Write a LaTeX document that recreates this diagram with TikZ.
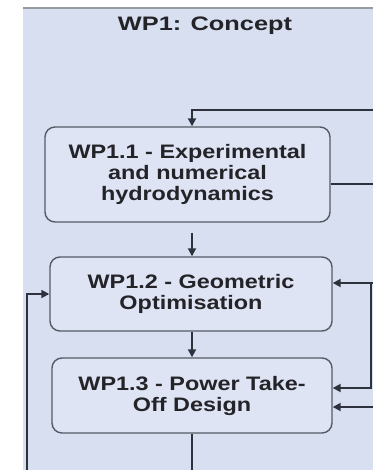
\documentclass[tikz,border=0pt]{standalone}
\usepackage{fontspec}
\setmainfont{Liberation Sans}
\newfontfamily\boxfont[FakeStretch=1.2]{Liberation Sans}
\newfontfamily\titlefont[FakeStretch=1.3]{Liberation Sans}
\usetikzlibrary{arrows.meta}
\definecolor{panel}{RGB}{216,223,241}
\definecolor{boxfill}{RGB}{222,228,244}
\definecolor{lineclr}{RGB}{45,50,60}
\definecolor{borderclr}{RGB}{85,90,100}
\definecolor{topline}{RGB}{150,155,162}
\definecolor{txt}{RGB}{35,35,40}
\tikzset{
  wpbox/.style={draw=borderclr, line width=1.4pt, fill=boxfill, rounded corners=10pt,
    align=center, inner sep=0pt, text=txt,
    font=\boxfont\bfseries\fontsize{19.5}{21}\selectfont},
  titletext/.style={text=txt, inner sep=0pt, font=\titlefont\bfseries\fontsize{19.5}{21}\selectfont},
  conn/.style={draw=lineclr, line width=1.8pt},
  arr/.style={conn, -{Triangle[length=8pt,width=8pt]}},
}
\begin{document}
\begin{tikzpicture}[x=1pt,y=-1pt]
\useasboundingbox (0,0) rectangle (373,470);
\fill[white] (0,0) rectangle (373,470);
\fill[panel] (23,8) rectangle (373,470);
\draw[topline, line width=2pt] (23,8) -- (373,8);

\node[titletext, anchor=base] (title) at (205,31) {WP1: Concept};

\node[wpbox, minimum width=285pt, minimum height=95pt] (b1) at (187.5,174.5)
  {WP1.1 - Experimental\\and numerical\\hydrodynamics};
\node[wpbox, minimum width=282pt, minimum height=74pt] (b2) at (191,294)
  {WP1.2 - Geometric\\Optimisation};
\node[wpbox, minimum width=280pt, minimum height=75pt] (b3) at (192,395.5)
  {WP1.3 - Power Take-\\Off Design};

\coordinate (ax) at (192,0);
\coordinate (tr) at (373,110);
\coordinate (r1) at (373,184);
\coordinate (r2) at (373,283);
\coordinate (r2b) at (371,283);
\coordinate (r3) at (371,388);
\coordinate (r4) at (373,407);
\coordinate (l0) at (27,470);
\coordinate (bot) at (192,470);

\draw[arr] (tr) -| (b1.north -| ax);
\draw[conn] (r1 -| b1.east) -- (r1);
\draw[arr, shorten <=10pt] (b1.south -| ax) -- (b2.north -| ax);
\draw[arr] (b2.south -| ax) -- (b3.north -| ax);
\draw[arr] (r2) -- (r2 -| b2.east);
\draw[arr] (r2b) -- (r3) -- (r3 -| b3.east);
\draw[arr] (r4) -- (r4 -| b3.east);
\draw[arr] (l0) |- (b2.west);
\draw[conn] (b3.south -| bot) -- (bot);
\end{tikzpicture}
\end{document}
